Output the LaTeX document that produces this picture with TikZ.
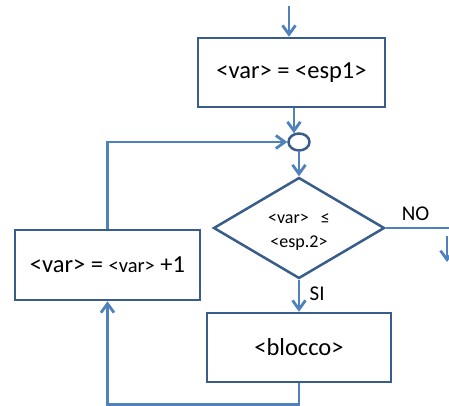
\documentclass[tikz,border=0pt]{standalone}
\usepackage{fontspec}
\setmainfont{Carlito}
\usetikzlibrary{arrows.meta,shapes.geometric}
\definecolor{flowline}{HTML}{4F81BD}
\definecolor{boxline}{HTML}{385D8A}
\tikzset{
  procbox/.style={draw=boxline, line width=2.5pt, fill=white, rectangle,
    inner sep=0pt, font=\fontsize{24.5}{28}\selectfont},
  testbox/.style={draw=boxline, line width=2.5pt, fill=white, diamond, aspect=1.7,
    inner sep=0pt, minimum width=171pt, minimum height=101pt},
  condtext/.style={font=\fontsize{18}{24}\selectfont, align=center},
  joint/.style={draw=boxline, line width=2.5pt, fill=white, ellipse,
    inner sep=0pt, minimum width=21pt, minimum height=17pt},
  flow/.style={draw=flowline, line width=2.8pt},
  arr/.style={flow, -{Straight Barb[length=9pt,width=13pt,line width=2.8pt]}},
  lbl/.style={font=\fontsize{21}{24}\selectfont}
}
\begin{document}
\begin{tikzpicture}[x=1pt,y=-1pt]
  \useasboundingbox (0,0) rectangle (449,406);

  % blocks
  \node[procbox, minimum width=187pt, minimum height=69pt] (init) at (291.5,72.5) {<var> = <esp1>};
  \node[joint] (merge) at (299,142) {};
  \node[testbox] (test) at (299,228) {};
  \node[condtext] (cond) at (299,232) {<var>\ \ \ ≤\\<esp.2>};
  \node[procbox, minimum width=185pt, minimum height=70pt] (incr) at (107.5,265)
    {<var> = {\fontsize{20.5}{24}\selectfont <var>} +1};
  \node[procbox, minimum width=184pt, minimum height=69pt] (body) at (299,347.5) {<blocco>};

  % free ends of the incoming and outgoing lines
  \coordinate (entry) at (289,6);
  \coordinate (exitH) at (452,228);
  \coordinate (exitA) at (447,236);
  \coordinate (exitB) at (447,262);

  % connectors
  \draw[arr] (entry) -- (entry |- init.north);
  \draw[arr] (init.south -| merge.120) -- (merge.120);
  \draw[arr] (merge.south) -- (test.north);
  \draw[arr] (test.south) -- (body.north) node[lbl, pos=0.45, right=6pt] {SI};
  \draw[flow] (test.east) -- (exitH) node[lbl, pos=0.45, above=3pt] {NO};
  \draw[arr] (exitA) -- (exitB);
  \draw[arr] (body.south) -- ++(0,21) -| (incr.south);
  \draw[arr] (incr.north) |- (merge.west);
\end{tikzpicture}
\end{document}
